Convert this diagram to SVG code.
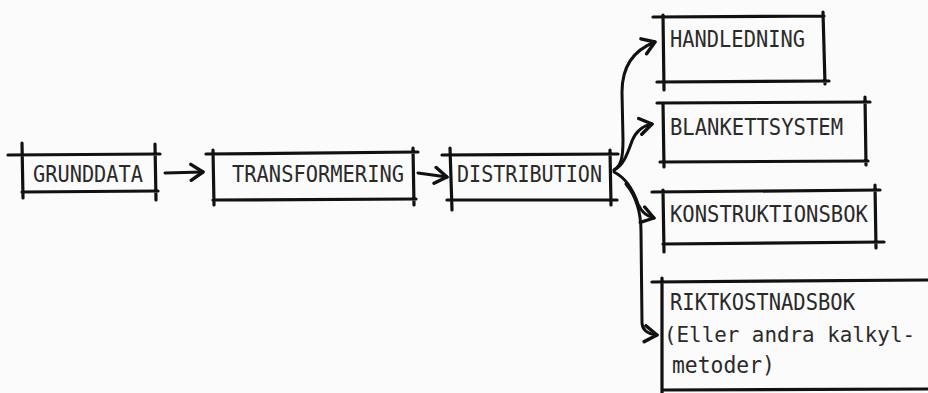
<svg xmlns="http://www.w3.org/2000/svg" width="928" height="393" viewBox="0 0 928 393">
<style>
.bx{fill:none;stroke:#111;stroke-width:3.2;stroke-linecap:round;stroke-linejoin:round}
.cn{fill:none;stroke:#111;stroke-width:3;stroke-linecap:round;stroke-linejoin:round}
.t{font-family:"DejaVu Sans Mono","Liberation Mono",monospace;font-size:23px;fill:#2a2a2a}
</style>
<defs>
<marker id="ah" viewBox="0 0 16 20" markerWidth="16" markerHeight="20" refX="14" refY="10" orient="auto" markerUnits="userSpaceOnUse">
<path d="M2 2 L14 10 L2 18" fill="none" stroke="#111" stroke-width="3.4" stroke-linecap="round" stroke-linejoin="round"/>
</marker>
</defs>
<rect width="928" height="393" fill="#fbfbfb"/>
<g id="grunddata">
<path class="bx" d="M8 155 L160 154 M22 192 L158 191 M22 143 L23 198 M155 144 L156 200"/>
<text class="t" x="33" y="182" textLength="110" lengthAdjust="spacingAndGlyphs">GRUNDDATA</text>
</g>
<g id="transformering">
<path class="bx" d="M206 154 L418 152 M213 200 L416 199 M213 150 L214 205 M413 148 L414 205"/>
<text class="t" x="232" y="182" textLength="172" lengthAdjust="spacingAndGlyphs">TRANSFORMERING</text>
</g>
<g id="distribution">
<path class="bx" d="M442 155 L618 154 M447 200 L617 200 M450 148 L452 210 M610 150 L611 205"/>
<text class="t" x="457" y="182" textLength="145" lengthAdjust="spacingAndGlyphs">DISTRIBUTION</text>
</g>
<g id="handledning">
<path class="bx" d="M653 17 L824 16 M657 82 L829 81 M663 15 L664 90 M823 12 L825 84"/>
<text class="t" x="670" y="47" textLength="135" lengthAdjust="spacingAndGlyphs">HANDLEDNING</text>
</g>
<g id="blankettsystem">
<path class="bx" d="M657 103 L870 102 M660 162 L868 161 M663 103 L664 167 M865 97 L866 165"/>
<text class="t" x="670" y="135" textLength="173" lengthAdjust="spacingAndGlyphs">BLANKETTSYSTEM</text>
</g>
<g id="konstruktionsbok">
<path class="bx" d="M652 192 L880 190 M663 244 L884 242 M663 190 L664 252 M875 185 L876 248"/>
<text class="t" x="670" y="222" textLength="198" lengthAdjust="spacingAndGlyphs">KONSTRUKTIONSBOK</text>
</g>
<g id="riktkostnadsbok">
<path class="bx" d="M652 282 L928 280 M662 390 L928 389 M662 278 L662 393"/>
<text class="t" x="670" y="310" textLength="185" lengthAdjust="spacingAndGlyphs">RIKTKOSTNADSBOK</text>
<text class="t" x="664" y="342" style="font-size:21px" textLength="251" lengthAdjust="spacingAndGlyphs">(Eller andra kalkyl-</text>
<text class="t" x="672" y="373" textLength="103" lengthAdjust="spacingAndGlyphs">metoder)</text>
</g>
<g id="connectors">
<path class="cn" d="M165 173 L203 172" marker-end="url(#ah)"/>
<path class="cn" d="M418 173 L447 177" marker-end="url(#ah)"/>
<path class="cn" d="M614 170 C621 166 623 158 623 140 L622 92 C622 66 634 50 655 42" marker-end="url(#ah)"/>
<path class="cn" d="M614 170 C624 165 628 152 632 141 C636 131 642 126 652 124" marker-end="url(#ah)"/>
<path class="cn" d="M614 172 C626 178 634 192 638 204 C642 213 647 216 654 218" marker-end="url(#ah)"/>
<path class="cn" d="M626 184 C636 196 641 212 641 232 L642 322 C642 330 648 334 657 335" marker-end="url(#ah)"/>
</g>
</svg>
